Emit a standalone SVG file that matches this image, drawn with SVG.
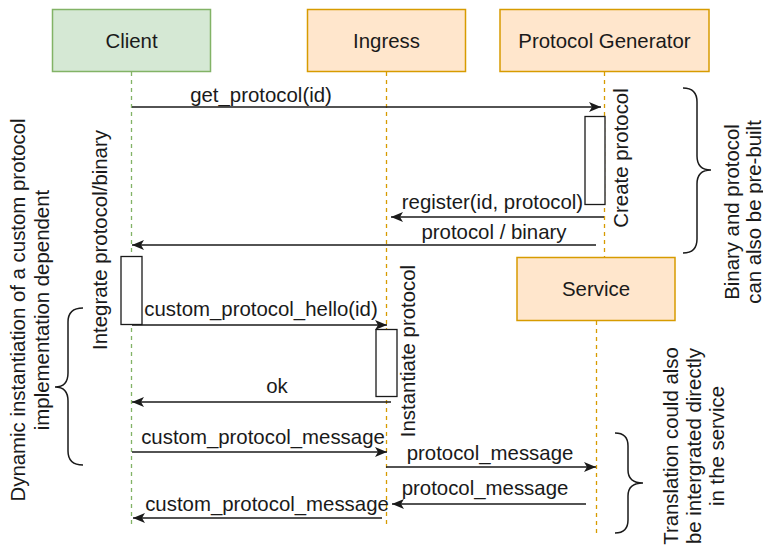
<svg xmlns="http://www.w3.org/2000/svg" width="763" height="547" viewBox="0 0 763 547">
  <defs>
    <style>
      .lbl { font-family: "Liberation Sans", Arial, sans-serif; font-size: 20.4px; fill: #1a1a1a; text-anchor: middle; }
      .client { fill: #d5e8d4; stroke: #82b366; stroke-width: 1.5; }
      .actor { fill: #ffe6cc; stroke: #d79b00; stroke-width: 1.5; }
      .life-g { stroke: #82b366; stroke-width: 1.3; stroke-dasharray: 4 4; fill: none; }
      .life-o { stroke: #d79b00; stroke-width: 1.3; stroke-dasharray: 4 4; fill: none; }
      .act { fill: #ffffff; stroke: #1a1a1a; stroke-width: 1.3; }
      .msg { stroke: #1a1a1a; stroke-width: 1.5; fill: none; marker-end: url(#arrow); }
      .brace { stroke: #1a1a1a; stroke-width: 1.5; fill: none; }
    </style>
    <marker id="arrow" viewBox="0 0 12 10" refX="12" refY="5" markerWidth="12" markerHeight="10" markerUnits="userSpaceOnUse" orient="auto">
      <path d="M0,0 L12,5 L0,10 L3,5 z" fill="#1a1a1a"/>
    </marker>
  </defs>

  <!-- lifelines -->
  <g id="lifelines">
    <line class="life-g" x1="131.5" y1="72" x2="131.5" y2="528"/>
    <line class="life-o" x1="386.5" y1="72" x2="386.5" y2="528"/>
    <line class="life-o" x1="604.5" y1="72" x2="604.5" y2="257"/>
    <line class="life-o" x1="596.5" y1="321" x2="596.5" y2="533"/>
  </g>

  <!-- participants -->
  <g id="client">
    <rect class="client" x="52.5" y="9.5" width="158" height="62"/>
    <text class="lbl" x="131.5" y="48">Client</text>
  </g>
  <g id="ingress">
    <rect class="actor" x="307.5" y="9.5" width="158" height="62"/>
    <text class="lbl" x="386.5" y="48">Ingress</text>
  </g>
  <g id="protocol-generator">
    <rect class="actor" x="500" y="9.5" width="209" height="62"/>
    <text class="lbl" x="604.5" y="48">Protocol Generator</text>
  </g>
  <g id="service">
    <rect class="actor" x="517" y="257.5" width="158" height="63"/>
    <text class="lbl" x="596" y="296">Service</text>
  </g>

  <!-- activations -->
  <g id="act-generator">
    <rect class="act" x="585" y="116.5" width="20" height="88"/>
    <text class="lbl" transform="translate(628,158) rotate(-90)">Create protocol</text>
  </g>
  <g id="act-client">
    <rect class="act" x="121" y="256.5" width="21" height="68"/>
    <text class="lbl" transform="translate(107,240) rotate(-90)">Integrate protocol/binary</text>
  </g>
  <g id="act-ingress">
    <rect class="act" x="376" y="329.5" width="21" height="67"/>
    <text class="lbl" transform="translate(415,351) rotate(-90)">Instantiate protocol</text>
  </g>

  <!-- messages -->
  <g id="connectors">
    <line class="msg" x1="132" y1="107" x2="601" y2="107"/>
    <line class="msg" x1="604" y1="217" x2="391" y2="217"/>
    <line class="msg" x1="596" y1="245" x2="132" y2="245"/>
    <line class="msg" x1="132" y1="325" x2="387" y2="325"/>
    <line class="msg" x1="391" y1="402" x2="132" y2="402"/>
    <line class="msg" x1="132" y1="452" x2="387" y2="452"/>
    <line class="msg" x1="386" y1="467" x2="596" y2="467"/>
    <line class="msg" x1="586" y1="504" x2="392" y2="504"/>
    <line class="msg" x1="382" y1="518" x2="133" y2="518"/>
  </g>

  <!-- message labels -->
  <g id="labels">
    <text class="lbl" x="261" y="102">get_protocol(id)</text>
    <text class="lbl" x="492.5" y="209">register(id, protocol)</text>
    <text class="lbl" x="494" y="239">protocol / binary</text>
    <text class="lbl" x="261" y="316">custom_protocol_hello(id)</text>
    <text class="lbl" x="277" y="393">ok</text>
    <text class="lbl" x="263" y="444">custom_protocol_message</text>
    <text class="lbl" x="490" y="460">protocol_message</text>
    <text class="lbl" x="485" y="495">protocol_message</text>
    <text class="lbl" x="267" y="511">custom_protocol_message</text>
  </g>

  <!-- annotations -->
  <g id="note-prebuilt">
    <path class="brace" d="M683,88 Q697,88 697,102 L697,156 Q697,170 711,170 Q697,170 697,184 L697,239 Q697,253 683,253"/>
    <text class="lbl" transform="translate(739,212) rotate(-90)">Binary and protocol</text>
    <text class="lbl" transform="translate(761,212) rotate(-90)">can also be pre-built</text>
  </g>
  <g id="note-dynamic">
    <path class="brace" d="M83,308 Q68,308 68,322 L68,373 Q68,387 55,387 Q68,387 68,401 L68,451 Q68,465 83,465"/>
    <text class="lbl" transform="translate(25,310) rotate(-90)">Dynamic instantiation of a custom protocol</text>
    <text class="lbl" transform="translate(49,310) rotate(-90)">implementation dependent</text>
  </g>
  <g id="note-translation">
    <path class="brace" d="M615,433 Q628,433 628,446 L628,470 Q628,483 643,483 Q628,483 628,496 L628,520 Q628,533 615,533"/>
    <text class="lbl" transform="translate(678,446) rotate(-90)">Translation could also</text>
    <text class="lbl" transform="translate(701,446) rotate(-90)">be intergrated directly</text>
    <text class="lbl" transform="translate(724,446) rotate(-90)">in the service</text>
  </g>
</svg>
